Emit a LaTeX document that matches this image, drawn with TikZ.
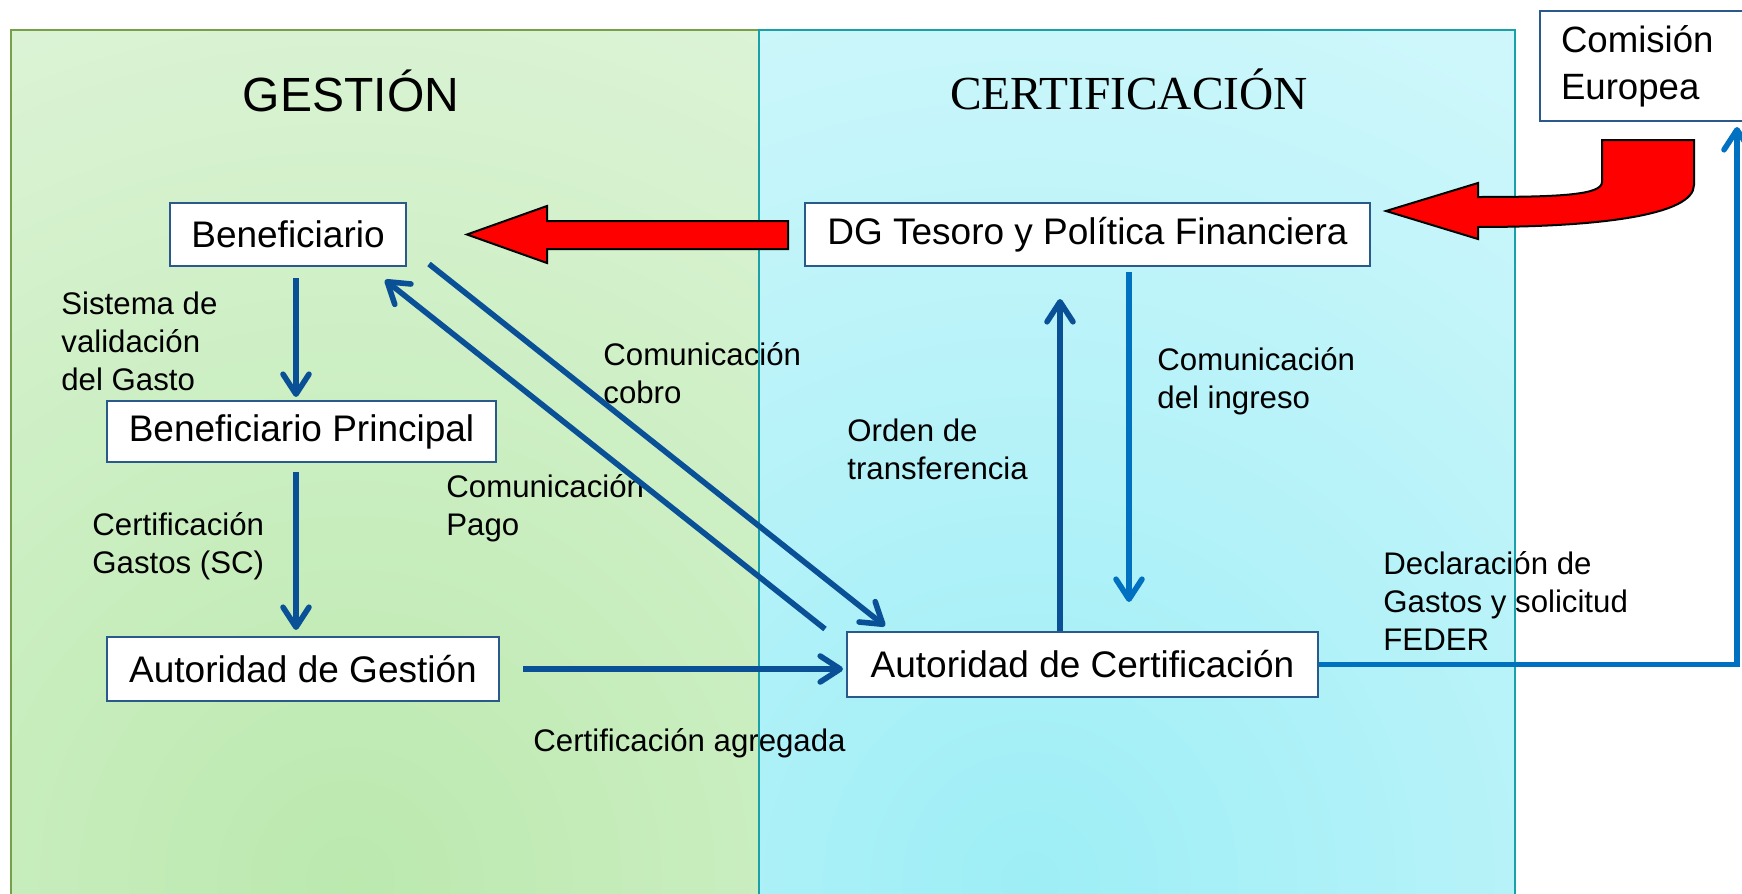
\documentclass[tikz,border=0pt]{standalone}
\usepackage{fontspec}
\setmainfont{Liberation Sans}
\newfontfamily\serifttl{Liberation Serif}
\usetikzlibrary{arrows.meta}
\definecolor{darkblue}{HTML}{0A5096}
\definecolor{brightblue}{HTML}{0070C0}
\definecolor{boxline}{HTML}{2A5A8C}
\definecolor{greenline}{HTML}{77A04A}
\definecolor{cyanline}{HTML}{1AA0A8}
\definecolor{gin}{HTML}{BBE9AE}
\definecolor{gout}{HTML}{F3FBF2}
\definecolor{cin}{HTML}{9EEEF6}
\definecolor{cout}{HTML}{EFFDFE}
\begin{document}
\begin{tikzpicture}[x=0.5pt,y=-0.5pt,
 box/.style={draw=boxline, line width=1pt, fill=white, inner sep=0pt, font=\fontsize{18.5}{22}\selectfont},
 lbl/.style={anchor=base west, align=left, inner sep=0pt, font=\fontsize{15.6}{18.9}\selectfont},
 flow/.style={draw=darkblue, line width=2.8pt, -{Straight Barb[length=10pt,width=13pt,line cap=round,line join=round]}},
 flowb/.style={flow, draw=brightblue},
 bigarrow/.style={fill=red, draw=black, line width=1pt, line join=miter}
]
\useasboundingbox (0,0) rectangle (1742,894);
% panels
\begin{scope}
\clip (11,30) rectangle (767,900);
\shade[inner color=gin, outer color=gout] (-1250,-720) rectangle (1950,2480);
\end{scope}
\draw[greenline, line width=1.2pt] (11,900) -- (11,30) -- (767,30) -- (767,900);
\begin{scope}
\clip (759,30) rectangle (1515,900);
\shade[inner color=cin, outer color=cout] (-570,-720) rectangle (2630,2480);
\end{scope}
% labels (anchor = baseline of last line)
\node[lbl] (l1) at (61,390) {Sistema de\\validación\\del Gasto};
\node[lbl] (l2) at (92,573) {Certificación\\Gastos (SC)};
\node[lbl] (l3) at (603,403) {Comunicación\\cobro};
\node[lbl] (l4) at (446,535) {Comunicación\\Pago};
\node[lbl] (l5) at (847,479) {Orden de\\transferencia};
\node[lbl] (l6) at (1157,408) {Comunicación\\del ingreso};
\node[lbl] (l7) at (1383,650) {Declaración de\\Gastos y solicitud\\FEDER};
\node[lbl] (l8) at (533,751) {Certificación agregada};
\node[anchor=base, inner sep=0pt, font=\fontsize{24}{28}\selectfont] (tg) at (351,111) {GESTIÓN};
\node[anchor=base, inner sep=0pt, font=\serifttl\fontsize{23.7}{28}\selectfont] (tc) at (1129,109) {CERTIFICACIÓN};
\draw[cyanline, line width=1.2pt] (759,900) -- (759,30) -- (1515,30) -- (1515,900);
% red block arrows
\draw[bigarrow] (788,221) -- (547,221) -- (547,206) -- (467,234.5) -- (547,263) -- (547,249) -- (788,249) -- cycle;
\draw[bigarrow] (1386,211) -- (1478,183) -- (1478,197) .. controls (1560,197) and (1602,195) .. (1602,182) -- (1602,140) -- (1694,140) -- (1694,185) .. controls (1694,215) and (1600,227) .. (1478,227) -- (1478,239) -- cycle;
% boxes
\node[box, minimum width=118pt, minimum height=31.5pt] (ben) at (288,234.5) {Beneficiario};
\node[box, minimum width=282.5pt, minimum height=31.5pt] (dg) at (1087.5,234.5) {DG Tesoro y Política Financiera};
\node[box, minimum width=194.5pt, minimum height=30.5pt] (bp) at (301.5,431.5) {Beneficiario Principal};
\node[box, minimum width=196pt, minimum height=32pt] (ag) at (303,669) {Autoridad de Gestión};
\node[box, minimum width=235.5pt, minimum height=32.5pt] (ac) at (1082.5,664.5) {Autoridad de Certificación};
\node[box, anchor=north west, text width=90pt, align=left, inner xsep=10.5pt, inner ysep=0pt, minimum height=55pt, font=\fontsize{18.3}{22.5}\selectfont] (ce) at (1539,10) {Comisión\\[1pt]Europea};
% blue connectors
\draw[flow, shorten <=5.5pt, shorten >=1.5pt] ([xshift=4pt]ben.south) -- ([xshift=4pt]ben.south |- bp.north);
\draw[flow, shorten <=4.5pt, shorten >=3pt] ([xshift=-2.75pt]bp.south) -- ([xshift=-2.75pt]bp.south |- ag.north);
\draw[flow, shorten <=11.5pt, shorten >=1.5pt] (ag.east) -- (ag.east -| ac.west);
\draw[flow] ([shift={(22,-3)}]ben.south east) -- ([shift={(39,-5)}]ac.north west);
\draw[flow] ([shift={(-21,-2)}]ac.north west) -- ([shift={(-22,13)}]ben.south east);
\draw[flow, shorten >=16pt] ([xshift=-11.25pt]ac.north) -- ([xshift=-11.25pt]ac.north |- dg.south);
\draw[flowb, shorten <=2.5pt, shorten >=14.5pt] ([xshift=20.75pt]dg.south) -- ([xshift=20.75pt]dg.south |- ac.north);
\draw[flowb, line join=miter] (ac.east) -| ([xshift=99pt, yshift=-2.5pt]ce.south west);
\end{tikzpicture}
\end{document}
